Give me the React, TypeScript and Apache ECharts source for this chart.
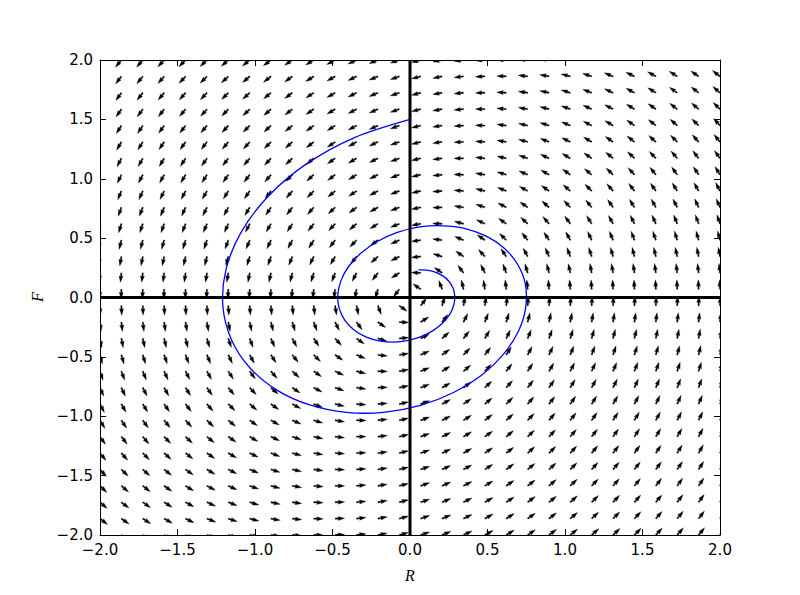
import React, { useEffect, useRef } from "react";
import * as echarts from "echarts";

// Grid of arrow tails (30 x 30, from -2 to 2)
const gridValues = [
  -2.0, -1.862, -1.724, -1.586, -1.448, -1.31, -1.172, -1.034, -0.897, -0.759,
  -0.621, -0.483, -0.345, -0.207, -0.069, 0.069, 0.207, 0.345, 0.483, 0.621,
  0.759, 0.897, 1.034, 1.172, 1.31, 1.448, 1.586, 1.724, 1.862, 2.0,
];

// Linear love-dynamics field read from the arrows: dR/dt = a*R + b*F, dF/dt = c*R + d*F
const dRdtCoefficients = [0, -1];
const dFdtCoefficients = [1, -0.3];

// Trajectory: [R, F]
const trajectory: [number, number][] = [
  [0, 1.5], [-0.358, 1.347], [-0.668, 1.125], [-0.916, 0.851], [-1.091, 0.546],
  [-1.188, 0.231], [-1.207, -0.076], [-1.152, -0.356], [-1.032, -0.594], [-0.859, -0.78],
  [-0.647, -0.905], [-0.412, -0.967], [-0.169, -0.967], [0.067, -0.909], [0.281, -0.8],
  [0.464, -0.652], [0.605, -0.475], [0.7, -0.282], [0.746, -0.087], [0.744, 0.114],
  [0.694, 0.28], [0.606, 0.417], [0.489, 0.519], [0.35, 0.583], [0.212, 0.604],
  [0.062, 0.594], [-0.082, 0.548], [-0.21, 0.472], [-0.316, 0.374], [-0.396, 0.261],
  [-0.446, 0.14], [-0.466, 0.019], [-0.456, -0.094], [-0.42, -0.193], [-0.361, -0.273],
  [-0.285, -0.332], [-0.198, -0.366], [-0.104, -0.376], [-0.012, -0.362], [0.075, -0.328],
  [0.151, -0.277], [0.212, -0.213], [0.257, -0.14], [0.282, -0.065], [0.289, 0.009],
  [0.278, 0.077], [0.252, 0.135], [0.212, 0.182], [0.162, 0.214], [0.106, 0.23],
  [0.055, 0.232],
];

const axisTicks = [-2, -1.5, -1, -0.5, 0, 0.5, 1, 1.5, 2];

const fmt = (v: number) => (v < 0 ? "\u2212" : "") + Math.abs(v).toFixed(1);

export default function App() {
  const ref = useRef<HTMLDivElement>(null);
  useEffect(() => {
    if (!ref.current) return;
    const chart = echarts.init(ref.current, null, { renderer: "svg" });

    const arrows: number[][] = [];
    for (const F of gridValues) {
      for (const R of gridValues) {
        const u = dRdtCoefficients[0] * R + dRdtCoefficients[1] * F;
        const v = dFdtCoefficients[0] * R + dFdtCoefficients[1] * F;
        arrows.push([R, F, u, v]);
      }
    }

    const L = 9.5;
    const w = 1.35;
    const hl = 6.5;
    const hal = 5.9;

    const baseAxis = {
      type: "value" as const,
      min: axisTicks[0],
      max: axisTicks[axisTicks.length - 1],
      interval: 0.5,
      splitLine: { show: false },
      axisLine: { show: true, onZero: false, lineStyle: { color: "#000", width: 1 } },
      axisTick: { show: true, inside: true, length: 6, lineStyle: { color: "#000", width: 1 } },
    };

    const labelStyle = {
      formatter: fmt,
      color: "#000",
      fontFamily: "DejaVu Sans",
      fontSize: 15,
      margin: 7,
    };

    chart.setOption({
      animation: false,
      backgroundColor: "#fff",
      grid: { left: 100, top: 60, width: 620, height: 475, containLabel: false },
      xAxis: [
        { ...baseAxis, position: "bottom", axisLabel: labelStyle },
        { ...baseAxis, position: "top", axisLabel: { show: false } },
      ],
      yAxis: [
        { ...baseAxis, position: "left", axisLabel: labelStyle },
        { ...baseAxis, position: "right", axisLabel: { show: false } },
      ],
      graphic: [
        {
          type: "text",
          x: 410,
          y: 575,
          style: {
            text: "R",
            fontFamily: "Liberation Serif",
            fontStyle: "italic",
            fontSize: 16,
            fill: "#000",
            align: "center",
            verticalAlign: "middle",
          },
        },
        {
          type: "text",
          x: 37,
          y: 297,
          rotation: Math.PI / 2,
          style: {
            text: "F",
            fontFamily: "Liberation Serif",
            fontStyle: "italic",
            fontSize: 16,
            fill: "#000",
            align: "center",
            verticalAlign: "middle",
          },
        },
      ],
      series: [
        {
          type: "custom",
          name: "field",
          clip: true,
          z: 2,
          encode: { x: 0, y: 1 },
          data: arrows,
          renderItem: (params: any, api: any) => {
            const R = api.value(0);
            const F = api.value(1);
            const u = api.value(2);
            const v = api.value(3);
            const p = api.coord([R, F]);
            const ang = Math.atan2(-v, u);
            const cx = Math.cos(ang);
            const cy = Math.sin(ang);
            const px = -cy;
            const py = cx;
            const pt = (a: number, b: number) => [p[0] + cx * a + px * b, p[1] + cy * a + py * b];
            const points = [
              pt(0, -w / 2),
              pt(L - hal, -w / 2),
              pt(L - hl, -1.5 * w),
              pt(L, 0),
              pt(L - hl, 1.5 * w),
              pt(L - hal, w / 2),
              pt(0, w / 2),
            ];
            return {
              type: "polygon",
              shape: { points },
              style: { fill: "#000", stroke: "#000", lineWidth: 0.3 },
            };
          },
        },
        {
          type: "custom",
          name: "trajectory",
          clip: true,
          z: 3,
          encode: { x: 0, y: 1 },
          data: trajectory,
          renderItem: (params: any, api: any) => {
            if (params.dataIndex !== 0) return null;
            const points = trajectory.map((d) => api.coord(d));
            return {
              type: "polyline",
              shape: { points, smooth: 0.3 },
              style: { fill: "none", stroke: "#0000ff", lineWidth: 1.3 },
            };
          },
        },
        {
          type: "line",
          name: "Fzero",
          data: [[-2, 0], [2, 0]],
          showSymbol: false,
          z: 4,
          lineStyle: { color: "#000", width: 3 },
        },
        {
          type: "line",
          name: "Rzero",
          data: [[0, -2], [0, 2]],
          showSymbol: false,
          z: 4,
          lineStyle: { color: "#000", width: 3 },
        },
      ],
    });
    return () => chart.dispose();
  }, []);
  return (
    <div
      ref={ref}
      style={{ position: "absolute", left: 0, top: 0, width: 800, height: 595 }}
    />
  );
}
